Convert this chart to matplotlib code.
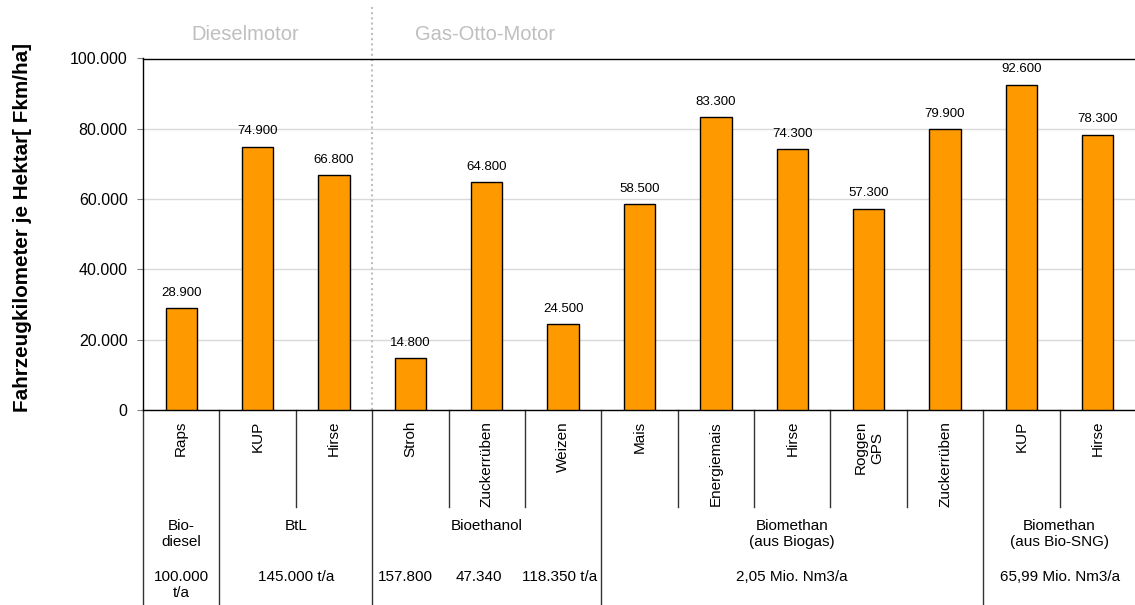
import matplotlib
matplotlib.use("Agg")
import matplotlib.pyplot as plt
from matplotlib.transforms import blended_transform_factory
from matplotlib.ticker import FuncFormatter

plt.rcParams['font.family'] = ['Liberation Sans', 'DejaVu Sans']

# ---- data ----
crops = ["Raps", "KUP", "Hirse", "Stroh", "Zuckerrüben", "Weizen", "Mais",
         "Energiemais", "Hirse", "Roggen\nGPS", "Zuckerrüben", "KUP", "Hirse"]
values = [28900, 74900, 66800, 14800, 64800, 24500, 58500,
          83300, 74300, 57300, 79900, 92600, 78300]
groups = ["Bio-\ndiesel", "BtL", "Bioethanol", "Biomethan\n(aus Biogas)",
          "Biomethan\n(aus Bio-SNG)"]
group_sizes = [1, 2, 3, 5, 2]
capacities = [("100.000\nt/a", 0.0), ("145.000 t/a", 1.5), ("157.800", 2.93),
              ("47.340", 3.9), ("118.350 t/a", 4.96), ("2,05 Mio. Nm3/a", 8.0),
              ("65,99 Mio. Nm3/a", 11.5)]
engines = ["Dieselmotor", "Gas-Otto-Motor"]
engine_pos = [0.835, 3.976]
yticks = [0, 20000, 40000, 60000, 80000, 100000]
ylabel = "Fahrzeugkilometer je Hektar[ Fkm/ha]"

BAR_COLOR = "#FF9900"

W, H = 1135, 605
fig = plt.figure(figsize=(W / 100, H / 100), dpi=100)
ax = fig.add_axes([143 / W, 195 / H, 993 / W, 351.5 / H])

x = list(range(len(values)))
ax.bar(x, values, width=0.41, color=BAR_COLOR, edgecolor="black",
       linewidth=1.0, zorder=3)

for xi, v in zip(x, values):
    ax.annotate(f"{v:,}".replace(",", "."), (xi, v), xytext=(0, 11),
                textcoords="offset points", ha="center", va="center",
                fontsize=9.5, color="black", zorder=4)

ax.set_xlim(-0.5, len(values) - 0.5)
ax.set_ylim(0, 100000)
ax.set_yticks(yticks)
ax.yaxis.set_major_formatter(FuncFormatter(lambda v, p: f"{int(v):,}".replace(",", ".")))
ax.tick_params(axis="y", labelsize=11.5, length=4, color="#808080", pad=7)
ax.set_xticks([])
ax.grid(axis="y", color="#d9d9d9", linewidth=1.0, zorder=0)
ax.set_axisbelow(True)
for s in ["left", "bottom", "top"]:
    ax.spines[s].set_color("black")
    ax.spines[s].set_linewidth(1.0)
ax.spines["right"].set_visible(False)

# dotted separator between engine types
trans = blended_transform_factory(ax.transData, fig.transFigure)
ax.plot([2.5, 2.5], [195 / H, (H - 7) / H], transform=trans, color="#bfbfbf",
        linestyle=(0, (1, 1.5)), linewidth=1.5, clip_on=False, zorder=1)

for name, px in zip(engines, engine_pos):
    ax.text(px, (H - 34) / H, name, transform=trans, ha="center", va="center",
            fontsize=14.5, color="#bfbfbf")

# table lines under the axis
bounds = [-0.5]
for g in group_sizes:
    bounds.append(bounds[-1] + g)
group_bounds = set(bounds)
for b in [i - 0.5 for i in range(len(values) + 1)]:
    if b in group_bounds:
        y0 = 0.0
    else:
        y0 = (H - 507) / H
    ax.plot([b, b], [195 / H, y0], transform=trans, color="#333333",
            linewidth=1.0, clip_on=False, zorder=2)

# crop labels
for xi, c in zip(x, crops):
    ax.text(xi, (H - 421) / H, c, transform=trans, rotation=90, ha="center",
            va="top", multialignment="center", fontsize=11, linespacing=1.2)

# group labels
start = -0.5
for g, size in zip(groups, group_sizes):
    cx = start + size / 2
    ax.text(cx, (H - 519) / H, g, transform=trans, ha="center", va="top",
            fontsize=11, linespacing=1.2)
    start += size

# capacity row
for txt, cx in capacities:
    ax.text(cx, (H - 570) / H, txt, transform=trans, ha="center", va="top",
            fontsize=11, linespacing=1.2)

fig.text(23 / W, (H - 227) / H, ylabel, rotation=90, ha="center", va="center",
         fontsize=14.9, fontweight="bold")

fig.savefig("out.png", dpi=100)
